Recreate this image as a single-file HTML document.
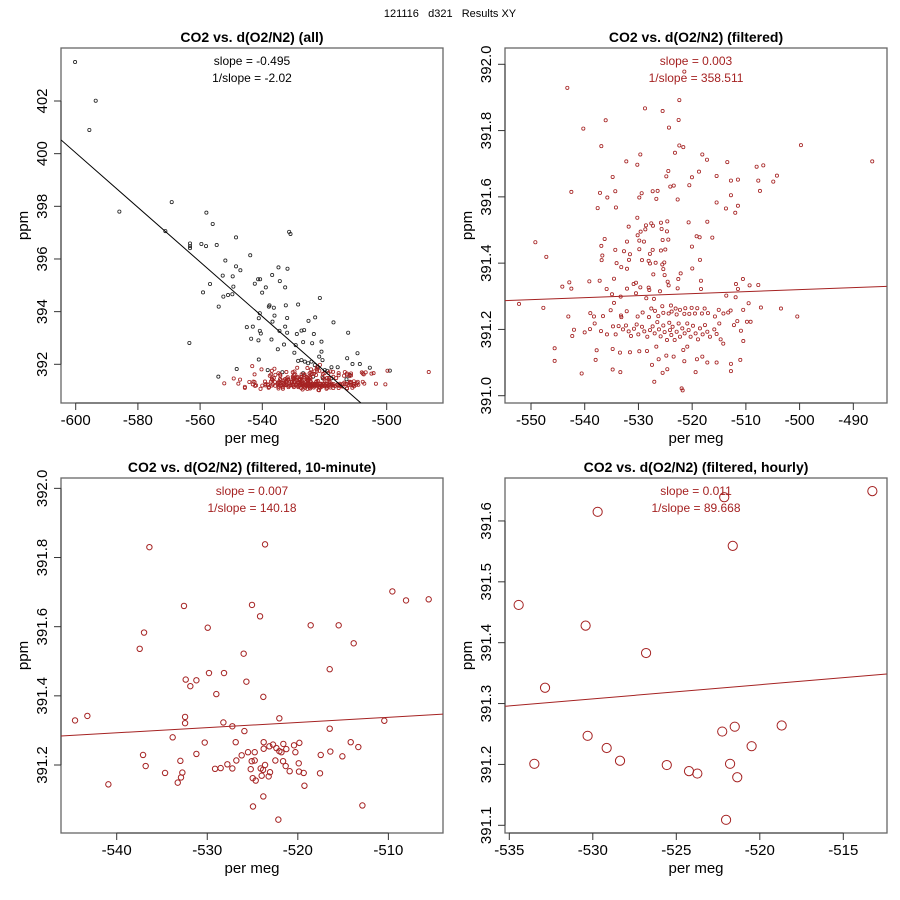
<!DOCTYPE html>
<html><head><meta charset="utf-8"><title>121116 d321 Results XY</title>
<style>
html,body{margin:0;padding:0;background:#fff;}
svg{display:block;font-family:"Liberation Sans",Arial,sans-serif;}
</style></head>
<body>
<svg id="chart" width="900" height="900" viewBox="0 0 900 900">
<text x="450" y="17" text-anchor="middle" font-size="11" style="white-space:pre" xml:space="preserve">121116   d321   Results XY</text>
</svg>
<script>
// ---------- data ----------
const p1BlackX=[-600.2,-593.57,-595.61,-585.96,-571.17,-569.13,-563.24,-563.24,-563.24,-563.45,-559.59,-558.09,-557.98,-555.95,-554.66,-559.06,-556.81,-554.02,-554.13,-551.88,-552.73,-552.52,-551.02,-549.63,-549.52,-549.30,-548.45,-548.45,-547.05,-548.23,-543.88,-544.98,-543.05,-543.59,-542.41,-541.34,-540.70,-540.05,-541.13,-540.80,-540.80,-540.48,-541.24,-541.13,-538.87,-537.90,-537.69,-536.29,-536.08,-536.72,-537.05,-536.83,-534.80,-534.37,-534.48,-535.01,-531.90,-532.65,-532.44,-532.65,-532.01,-532.01,-531.37,-530.94,-533.02,-529.69,-528.90,-528.48,-527.40,-526.55,-526.87,-529.26,-525.15,-523.97,-523.43,-523.00,-521.50,-520.97,-520.97,-521.71,-520.64,-517.11,-512.39,-512.71,-509.39,-511.00,-508.64,-505.43,-499.0,-515.76,-528.48,-527.40,-526.33,-525.26,-524.19,-523.12,-522.05,-519.90,-519.15,-517.76,-523.65,-526.87,-520.54,-517.76,-512.93,-511.86,-538.26,-533.55];
const p1BlackY=[403.48,402.01,400.90,397.80,397.06,398.16,396.59,396.49,396.41,392.81,396.57,396.49,397.76,397.33,396.53,394.73,395.05,394.19,391.53,395.94,395.37,394.57,394.63,394.66,395.34,394.95,396.82,395.72,395.57,391.82,396.14,393.41,393.43,392.97,395.06,395.23,395.23,394.72,393.75,393.94,393.27,393.17,392.91,392.18,394.92,394.19,394.24,394.15,393.85,393.62,392.94,395.39,395.68,395.16,393.27,392.57,395.63,394.92,394.24,393.43,393.76,393.20,397.03,396.95,392.75,392.44,393.15,394.27,393.28,393.30,392.84,392.73,393.65,392.80,393.15,393.78,394.52,392.86,392.48,392.29,392.16,393.59,393.20,392.23,392.42,392.01,392.01,391.87,391.76,391.89,392.13,392.16,392.10,392.04,392.10,391.97,391.89,391.78,391.75,391.89,391.53,391.66,391.47,391.47,391.43,391.60,391.78,391.70];
const filtX=[-543.24,-521.46,-522.39,-528.78,-525.50,-536.10,-522.52,-540.26,-524.32,-536.91,-522.39,-521.65,-499.75,-523.20,-529.65,-518.11,-532.26,-517.24,-513.46,-486.48,-530.21,-508.00,-506.76,-518.73,-524.44,-520.04,-524.81,-534.80,-515.45,-512.78,-511.48,-507.69,-504.22,-504.90,-520.53,-524.07,-523.43,-542.49,-537.16,-534.31,-529.40,-527.35,-526.43,-507.38,-512.78,-535.79,-529.84,-526.67,-522.70,-515.45,-511.48,-534.19,-537.59,-511.98,-513.71,-530.21,-527.61,-525.81,-524.63,-520.66,-517.18,-528.60,-527.30,-531.82,-529.59,-528.72,-524.69,-525.69,-530.15,-519.17,-518.61,-516.25,-536.29,-532.13,-529.84,-528.97,-527.35,-525.50,-524.44,-520.04,-534.31,-529.84,-525.81,-525.00,-536.91,-536.72,-532.69,-531.58,-527.86,-536.85,-531.76,-529.34,-528.10,-527.85,-526.80,-525.19,-518.55,-534.07,-533.20,-532.13,-525.56,-525.37,-519.98,-522.14,-525.13,-527.23,-522.58,-534.55,-539.14,-537.22,-542.87,-524.56,-518.36,-510.55,-530.90,-530.46,-544.17,-542.49,-535.92,-532.13,-529.65,-528.10,-527.98,-524.38,-522.70,-518.36,-511.85,-511.48,-509.31,-507.69,-534.92,-533.31,-530.46,-525.99,-513.65,-511.91,-552.23,-547.70,-528.54,-527.11,-534.55,-509.49,-507.20,-503.47,-500.43,-543.05,-538.28,-536.60,-538.96,-535.17,-533.25,-533.18,-532.18,-530.15,-529.22,-528.04,-527.61,-526.92,-526.30,-525.56,-525.37,-524.38,-523.95,-523.82,-523.08,-522.89,-522.27,-521.46,-521.28,-520.53,-520.10,-519.48,-519.05,-518.18,-517.68,-517.06,-515.76,-515.05,-514.18,-513.29,-512.84,-510.50,-511.60,-509.80,-509.12,-542.00,-542.32,-540.01,-539.02,-538.15,-536.97,-535.86,-534.74,-534.24,-533.69,-532.88,-532.32,-531.82,-531.39,-530.83,-530.33,-530.02,-529.34,-528.91,-528.35,-527.85,-527.36,-526.98,-526.49,-526.18,-525.87,-525.37,-525.13,-524.69,-524.26,-524.13,-523.88,-523.64,-523.26,-522.89,-522.52,-522.27,-521.84,-521.40,-520.91,-520.66,-520.29,-519.85,-519.36,-518.92,-518.55,-518.05,-517.62,-517.18,-516.69,-515.88,-515.45,-514.95,-514.70,-514.21,-512.22,-510.92,-510.48,-545.60,-545.60,-537.78,-537.97,-534.80,-533.44,-531.58,-529.84,-528.41,-526.67,-524.81,-523.45,-521.65,-520.91,-519.11,-518.11,-517.18,-515.45,-512.78,-511.04,-540.57,-534.80,-533.37,-527.48,-526.24,-525.50,-524.63,-521.46,-519.36,-512.78,-527.05,-521.96,-521.77,-549.19,-547.15];
const filtY=[391.929,391.978,391.892,391.867,391.859,391.831,391.832,391.806,391.809,391.753,391.755,391.750,391.756,391.733,391.728,391.728,391.707,391.712,391.705,391.707,391.697,391.691,391.695,391.676,391.678,391.659,391.662,391.660,391.663,391.649,391.652,391.649,391.664,391.646,391.635,391.631,391.634,391.615,391.612,391.617,391.611,391.617,391.618,391.618,391.605,391.598,391.598,391.594,391.592,391.583,391.573,391.568,391.566,391.552,391.565,391.537,391.520,391.522,391.526,391.523,391.525,391.514,391.513,391.510,391.495,391.502,391.496,391.503,391.484,391.481,391.478,391.477,391.473,391.465,391.468,391.465,391.440,391.470,391.471,391.450,391.440,391.442,391.438,391.441,391.452,391.423,391.436,391.427,391.428,391.409,391.410,391.409,391.407,391.399,391.401,391.402,391.410,391.400,391.388,391.383,391.396,391.382,391.384,391.369,391.364,391.366,391.352,391.353,391.345,391.347,391.342,391.344,391.347,391.352,391.337,391.341,391.329,391.323,391.322,391.323,391.327,391.326,391.319,391.333,391.324,391.322,391.337,391.322,391.333,391.334,391.306,391.299,391.309,391.315,391.302,391.297,391.277,391.265,391.294,391.292,391.280,391.279,391.266,391.263,391.239,391.239,391.239,391.240,391.249,391.258,391.242,391.237,391.255,391.239,391.251,391.237,391.263,391.256,391.240,391.270,391.250,391.248,391.272,391.254,391.263,391.245,391.259,391.247,391.264,391.247,391.265,391.248,391.264,391.248,391.263,391.249,391.239,391.259,391.248,391.251,391.257,391.259,391.225,391.223,391.223,391.199,391.180,391.191,391.201,391.218,391.195,391.185,391.209,391.185,391.210,391.200,391.212,391.194,391.180,391.202,391.215,391.185,391.208,391.194,391.178,391.198,391.209,391.188,391.222,391.200,391.179,391.212,391.192,391.168,391.220,391.198,391.183,391.208,391.168,391.193,391.218,391.178,391.203,391.188,391.218,391.198,391.178,391.211,391.188,391.170,391.203,391.185,391.213,391.193,391.178,391.200,391.186,391.218,391.170,391.157,391.213,391.196,391.165,391.143,391.105,391.137,391.108,391.141,391.130,391.131,391.134,391.135,391.148,391.121,391.118,391.138,391.148,391.110,391.118,391.100,391.100,391.096,391.108,391.067,391.079,391.071,391.093,391.110,391.069,391.080,391.104,391.071,391.074,391.042,391.022,391.016,391.463,391.419];
const tenX=[-544.60,-543.24,-540.92,-536.39,-536.98,-537.46,-537.09,-536.80,-534.66,-533.82,-533.26,-532.97,-532.90,-532.75,-532.57,-532.45,-532.45,-532.38,-531.87,-531.20,-531.20,-530.28,-529.95,-529.81,-529.14,-529.00,-528.52,-528.22,-528.15,-527.78,-527.23,-527.23,-526.86,-526.79,-526.20,-525.98,-525.90,-525.68,-525.50,-525.20,-525.09,-525.06,-524.98,-524.95,-524.76,-524.76,-524.65,-524.17,-524.10,-523.99,-523.84,-523.81,-523.81,-523.77,-523.77,-523.62,-523.62,-523.22,-523.14,-523.07,-522.74,-522.48,-522.37,-522.15,-522.04,-522.04,-521.81,-521.63,-521.60,-521.34,-521.27,-520.90,-520.42,-520.27,-519.90,-519.87,-519.83,-519.35,-519.27,-518.58,-517.55,-517.47,-516.48,-516.48,-516.41,-515.49,-515.08,-514.16,-513.83,-513.32,-512.87,-510.45,-509.56,-508.05,-505.55];
const tenY=[391.329,391.342,391.144,391.830,391.583,391.536,391.229,391.197,391.177,391.280,391.149,391.212,391.164,391.178,391.660,391.339,391.321,391.447,391.428,391.445,391.232,391.265,391.597,391.466,391.189,391.405,391.191,391.323,391.466,391.202,391.312,391.190,391.266,391.213,391.228,391.522,391.298,391.441,391.237,391.188,391.211,391.663,391.162,391.080,391.237,391.213,391.155,391.630,391.190,391.169,391.186,391.397,391.109,391.266,391.247,391.838,391.200,391.167,391.254,391.179,391.259,391.213,391.249,391.042,391.335,391.240,391.237,391.211,391.261,391.197,391.246,391.182,391.257,391.237,391.205,391.181,391.264,391.177,391.140,391.604,391.176,391.229,391.477,391.305,391.239,391.604,391.225,391.266,391.552,391.252,391.083,391.328,391.702,391.676,391.679];
const hrX=[-513.26,-522.13,-529.71,-521.62,-534.44,-530.43,-526.81,-532.86,-530.31,-529.17,-528.37,-533.50,-525.57,-524.24,-523.74,-522.25,-521.50,-518.69,-520.49,-521.78,-521.35,-522.02];
const hrY=[391.649,391.639,391.615,391.559,391.462,391.428,391.383,391.326,391.247,391.227,391.206,391.201,391.199,391.189,391.185,391.254,391.262,391.264,391.230,391.201,391.179,391.109];
const fit1X=[-604.7,-508.3], fit1Y=[400.52,390.53];
const fit2X=[-554.84,-483.8], fit2Y=[391.287,391.330];
const fit3X=[-546.15,-503.97], fit3Y=[391.284,391.347];
const fit4X=[-535.26,-512.4], fit4Y=[391.2955,391.3486];
const xTicks1=[-600,-580,-560,-540,-520,-500], yTicks1=[392,394,396,398,400,402];
const xTicks2=[-550,-540,-530,-520,-510,-500,-490], yTicks2=[391.0,391.2,391.4,391.6,391.8,392.0];
const xTicks3=[-540,-530,-520,-510], yTicks3=[391.2,391.4,391.6,391.8,392.0];
const xTicks4=[-535,-530,-525,-520,-515], yTicks4=[391.1,391.2,391.3,391.4,391.5,391.6];

// ---------- drawing ----------
const NS='http://www.w3.org/2000/svg';
const svg=document.getElementById('chart');
const RED='#a52222';
function mk(tag,attrs,parent){const e=document.createElementNS(NS,tag);for(const k in attrs)e.setAttribute(k,attrs[k]);(parent||svg).appendChild(e);return e;}

function panel(cfg){
  const g=mk('g',{});
  
  
  const X=v=>cfg.px0+(v-cfg.xv0)*cfg.pxu;
  const Y=v=>cfg.py0-(v-cfg.yv0)*cfg.pyu;
  const cid='clip-'+cfg.name;
  const cp=mk('clipPath',{id:cid},g);
  mk('rect',{x:cfg.L,y:cfg.T,width:cfg.R-cfg.L,height:cfg.B-cfg.T},cp);
  const box=mk('rect',{x:cfg.L,y:cfg.T,width:cfg.R-cfg.L,height:cfg.B-cfg.T,fill:'none',stroke:'#666','stroke-width':1.3},g);
  
  
  const cx=(cfg.L+cfg.R)/2;
  const t=mk('text',{x:cx,y:cfg.T-6,'text-anchor':'middle','font-size':14,'font-weight':'bold'},g);t.textContent=cfg.title;
  
  
  const s1=mk('text',{x:cx,y:cfg.T+17,'text-anchor':'middle','font-size':12,fill:cfg.textColor},g);s1.textContent=cfg.s1;
  
  
  const s2=mk('text',{x:cx,y:cfg.T+34,'text-anchor':'middle','font-size':12,fill:cfg.textColor},g);s2.textContent=cfg.s2;
  
  
  // x axis
  const xa=mk('g',{stroke:'#333','stroke-width':1},g);
  
  
  const xt=cfg.xTicks;
  mk('line',{x1:X(xt[0]),x2:X(xt[xt.length-1]),y1:cfg.B,y2:cfg.B},xa);
  xt.forEach(v=>{
    mk('line',{x1:X(v),x2:X(v),y1:cfg.B,y2:cfg.B+7},xa);
    const l=mk('text',{x:X(v),y:cfg.B+22,'text-anchor':'middle','font-size':15,stroke:'none',fill:'#000'},g);
    l.textContent=String(v);
    
    
  });
  const xl=mk('text',{x:cx,y:cfg.B+40,'text-anchor':'middle','font-size':15},g);xl.textContent='per meg';
  
  
  // y axis
  const ya=mk('g',{stroke:'#333','stroke-width':1},g);
  
  
  const yt=cfg.yTicks;
  mk('line',{x1:cfg.L,x2:cfg.L,y1:Y(yt[0]),y2:Y(yt[yt.length-1])},ya);
  yt.forEach(v=>{
    mk('line',{x1:cfg.L-7,x2:cfg.L,y1:Y(v),y2:Y(v)},ya);
    const lx=cfg.L-14, ly=Y(v);
    const l=mk('text',{x:lx,y:ly,'text-anchor':'middle','font-size':15,fill:'#000',transform:`rotate(-90 ${lx} ${ly})`},g);
    l.textContent=v.toFixed(cfg.yDec);
    
    
  });
  const yx=cfg.L-33, yy=(cfg.T+cfg.B)/2;
  const yl=mk('text',{x:yx,y:yy,'text-anchor':'middle','font-size':15,transform:`rotate(-90 ${yx} ${yy})`},g);yl.textContent='ppm';
  
  
  // points & line
  const pg=mk('g',{'clip-path':`url(#${cid})`,fill:'none'},g);
  
  
  cfg.series.forEach(sr=>{
    sr.x.forEach((v,i)=>{
      const c=mk('circle',{cx:X(v),cy:Y(sr.y[i]),r:cfg.r,stroke:sr.color,'stroke-width':cfg.sw},pg);
      
      
    });
  });
  const fl=mk('line',{x1:X(cfg.fitX[0]),y1:Y(cfg.fitY[0]),x2:X(cfg.fitX[1]),y2:Y(cfg.fitY[1]),stroke:cfg.lineColor,'stroke-width':1},pg);
  
  
}

panel({name:'panel-all',title:'CO2 vs. d(O2/N2) (all)',s1:'slope = -0.495',s2:'1/slope = -2.02',textColor:'#000',lineColor:'#000',
  L:61,R:443,T:48,B:403,px0:75.7,xv0:-600,pxu:3.11,py0:364.3,yv0:392,pyu:26.33,xTicks:xTicks1,yTicks:yTicks1,yDec:0,r:1.6,sw:0.8,
  series:[{x:p1BlackX,y:p1BlackY,color:'#222',name:'point-all'},{x:filtX,y:filtY,color:RED,name:'point-filtered'}],fitX:fit1X,fitY:fit1Y});
panel({name:'panel-filtered',title:'CO2 vs. d(O2/N2) (filtered)',s1:'slope = 0.003',s2:'1/slope = 358.511',textColor:RED,lineColor:RED,
  L:505,R:887,T:48,B:403,px0:531,xv0:-550,pxu:5.372,py0:395.7,yv0:391.0,pyu:331.4,xTicks:xTicks2,yTicks:yTicks2,yDec:1,r:1.6,sw:0.8,
  series:[{x:filtX,y:filtY,color:RED,name:'point-filtered'}],fitX:fit2X,fitY:fit2Y});
panel({name:'panel-10min',title:'CO2 vs. d(O2/N2) (filtered, 10-minute)',s1:'slope = 0.007',s2:'1/slope = 140.18',textColor:RED,lineColor:RED,
  L:61,R:443,T:478,B:833,px0:116.7,xv0:-540,pxu:9.056,py0:765,yv0:391.2,pyu:345.8,xTicks:xTicks3,yTicks:yTicks3,yDec:1,r:2.7,sw:1,
  series:[{x:tenX,y:tenY,color:RED,name:'point-10min'}],fitX:fit3X,fitY:fit3Y});
panel({name:'panel-hourly',title:'CO2 vs. d(O2/N2) (filtered, hourly)',s1:'slope = 0.011',s2:'1/slope = 89.668',textColor:RED,lineColor:RED,
  L:505,R:887,T:478,B:833,px0:509.3,xv0:-535,pxu:16.7,py0:825.3,yv0:391.1,pyu:608.7,xTicks:xTicks4,yTicks:yTicks4,yDec:1,r:4.6,sw:1,
  series:[{x:hrX,y:hrY,color:RED,name:'point-hourly'}],fitX:fit4X,fitY:fit4Y});
</script>
</body></html>
